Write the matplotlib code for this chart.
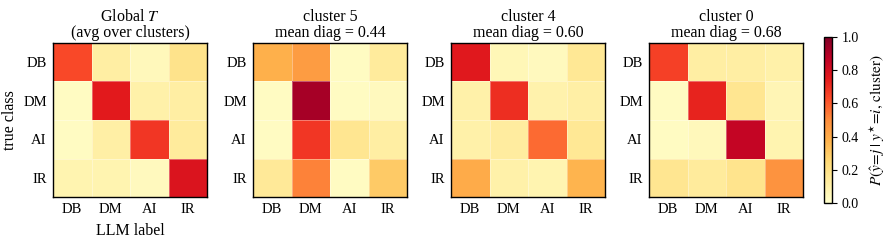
import numpy as np
import matplotlib
matplotlib.use("Agg")
import matplotlib.pyplot as plt

plt.rcParams['font.family'] = ['Liberation Serif', 'DejaVu Serif']
plt.rcParams['mathtext.fontset'] = 'stix'

classes = ["DB", "DM", "AI", "IR"]

global_T = [[0.64, 0.12, 0.05, 0.19],
            [0.03, 0.75, 0.10, 0.12],
            [0.03, 0.11, 0.68, 0.14],
            [0.08, 0.08, 0.04, 0.78]]
cluster5 = [[0.38, 0.45, 0.03, 0.14],
            [0.03, 0.92, 0.03, 0.04],
            [0.03, 0.68, 0.17, 0.12],
            [0.15, 0.52, 0.03, 0.30]]
cluster4 = [[0.76, 0.06, 0.04, 0.16],
            [0.10, 0.70, 0.09, 0.11],
            [0.10, 0.13, 0.57, 0.16],
            [0.40, 0.10, 0.08, 0.37]]
cluster0 = [[0.66, 0.12, 0.12, 0.10],
            [0.03, 0.73, 0.17, 0.07],
            [0.03, 0.05, 0.85, 0.08],
            [0.17, 0.14, 0.18, 0.48]]

titles = ["Global $T$\n(avg over clusters)",
          "cluster 5\nmean diag = 0.44",
          "cluster 4\nmean diag = 0.60",
          "cluster 0\nmean diag = 0.68"]
mats = [global_T, cluster5, cluster4, cluster0]

fig = plt.figure(figsize=(8.91, 2.40), dpi=100)
W, H = 891, 240
lefts = [53, 253, 451, 649]
aw = 154
top, bot = 43, 197

mesh = None
for i, (m, t) in enumerate(zip(mats, titles)):
    ax = fig.add_axes([lefts[i] / W, 1 - bot / H, aw / W, (bot - top) / H])
    arr = np.array(m)
    mesh = ax.pcolormesh(np.arange(5), np.arange(5), arr, cmap="YlOrRd",
                         vmin=0, vmax=1, edgecolor=(1, 1, 1, 0.35), linewidth=0.5)
    ax.set_xlim(0, 4)
    ax.set_ylim(4, 0)
    ax.set_xticks(np.arange(4) + 0.5)
    ax.set_yticks(np.arange(4) + 0.5)
    ax.set_xticklabels(classes, fontsize=10.5)
    ax.set_yticklabels(classes, fontsize=10.5)
    ax.tick_params(length=0, pad=4.5)
    ax.set_title(t, fontsize=11.5, linespacing=1.05, pad=4)
    for s in ax.spines.values():
        s.set_linewidth(1.0)
    if i == 0:
        ax.set_ylabel("true class", fontsize=11.5, labelpad=4)
        ax.set_xlabel("LLM label", fontsize=11.5, labelpad=5)

cax = fig.add_axes([824 / W, 1 - 203 / H, 8 / W, 166 / H])
cb = fig.colorbar(mesh, cax=cax)
cb.set_ticks([0, 0.2, 0.4, 0.6, 0.8, 1.0])
cb.ax.tick_params(labelsize=10, length=3.5)
cb.outline.set_linewidth(1.0)
cb.set_label(r"$P(\hat{y}\!=\!j\;|\;y^{\star}\!=\!i,\,\mathrm{cluster})$", fontsize=11, labelpad=6)

fig.savefig("out.png", dpi=100)
